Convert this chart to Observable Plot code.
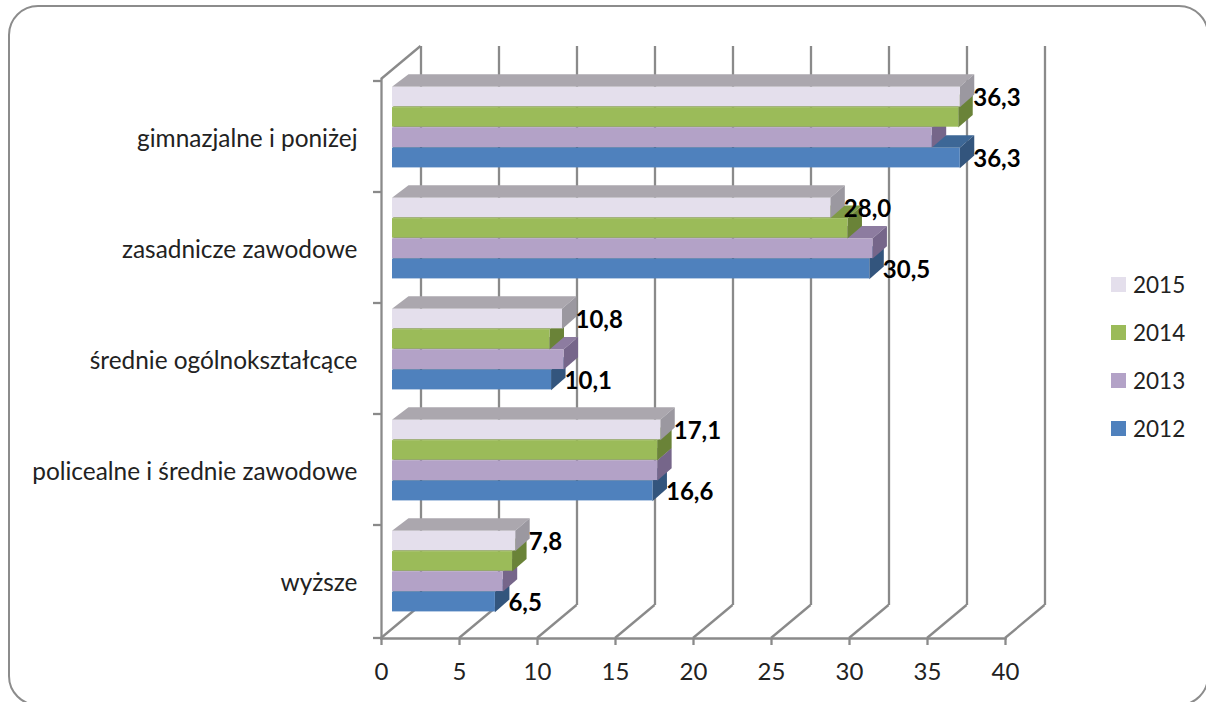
<!DOCTYPE html>
<html lang="pl">
<head>
<meta charset="utf-8">
<script src="https://cdn.jsdelivr.net/npm/d3@7"></script>
<script src="https://cdn.jsdelivr.net/npm/@observablehq/plot@0.6"></script>
<style>
html,body{margin:0;padding:0;background:#fff;width:1206px;height:702px;overflow:hidden}
#wrap{position:relative;width:1206px;height:702px;overflow:hidden;font-family:Lato,sans-serif}
#border{position:absolute;left:8px;top:5px;width:1201px;height:701px;border:2px solid #8c8c8c;border-radius:30px;box-sizing:border-box}
#chart{position:absolute;left:0;top:0}
#legend{position:absolute;left:1111px;top:260px;font-size:22.5px;color:#222}
.item{display:flex;align-items:center;height:48px}
.sw{width:15px;height:15px;margin-right:7px}
</style>
</head>
<body>
<div id="wrap"><div id="border"></div><div id="chart"></div><div id="legend"></div></div>
<script>
const categories = ["gimnazjalne i poniżej","zasadnicze zawodowe","średnie ogólnokształcące","policealne i średnie zawodowe","wyższe"];
const years = [2015,2014,2013,2012];
const values2015 = [36.3,28.0,10.8,17.1,7.8];
const values2014 = [36.2,29.1,10.0,16.9,7.6];
const values2013 = [34.5,30.7,10.9,16.9,7.0];
const values2012 = [36.3,30.5,10.1,16.6,6.5];
const labelledYears = [2015,2012];
const xTicks = [0,5,10,15,20,25,30,35,40];
const frontColors = ["#e4dfec","#9bbb59","#b3a2c7","#4f81bd"];
const topColors   = ["#aba7ae","#7f9a45","#8d7ca0","#3d6796"];
const sideColors  = ["#9b98a0","#6a8338","#76668a","#33557d"];

const seriesValues = [values2015,values2014,values2013,values2012];
const toRows = vals => categories.map((category,i)=>({category,value:vals[i]}));

const axisColor = "#8a8a8a";
const band = 111.8, rowH = 20.35, rowStart = 5.8;
const barShift = 12.5, barLeftExtra = 1.5;
const depthX = 14.5, depthY = 12.6, depthXLeft = 16.5;
const wallX = 39.5, wallY = 33;
const lineWidth = 2.3;

// side and top faces of one series' prisms, placed through the x and y scales
function prismFaces(idx){
  return (I,scales,values)=>{
    const g = d3.create("svg:g");
    const yTop = rowStart + idx*rowH, yBot = yTop + rowH;
    for(const i of I){
      const xL = values.x1[i] + barShift - barLeftExtra;
      const xR = values.x2[i] + barShift;
      const a = values.y[i] + yTop, b = values.y[i] + yBot;
      g.append("path").attr("fill",topColors[idx])
       .attr("d",`M${xL},${a}L${xR},${a}L${xR+depthX},${a-depthY}L${xL+depthXLeft},${a-depthY}Z`);
      g.append("path").attr("fill",sideColors[idx])
       .attr("d",`M${xR},${a}L${xR+depthX},${a-depthY}L${xR+depthX},${b-depthY}L${xR},${b}Z`);
    }
    return g.node();
  };
}

// slanted floor lines, and the slant at the top of the left wall
function wallSlants(I,scales,values,dim){
  const g = d3.create("svg:g").attr("stroke",axisColor).attr("stroke-width",lineWidth).attr("fill","none");
  const base = dim.height - dim.marginBottom, top = dim.marginTop;
  for(const i of I){
    const x = values.x[i];
    g.append("path").attr("d",`M${x},${base}L${x+wallX},${base-wallY}`);
  }
  const x0 = scales.x(0);
  g.append("path").attr("d",`M${x0},${top}L${x0+wallX},${top-wallY}`);
  return g.node();
}

// category ticks fall on the band boundaries
function bandTicks(I,scales,values,dim){
  const g = d3.create("svg:g").attr("stroke",axisColor).attr("stroke-width",lineWidth);
  const x0 = scales.x(0);
  const ys = categories.map(c=>scales.y(c));
  ys.push(dim.height - dim.marginBottom);
  for(const y of ys) g.append("line").attr("x1",x0-8).attr("x2",x0).attr("y1",y).attr("y2",y);
  return g.node();
}

const marks = [
  Plot.ruleX(xTicks,{stroke:axisColor,strokeWidth:lineWidth,dx:wallX,dy:-wallY}),
  Plot.ruleX(xTicks,{render:wallSlants}),
  Plot.frame({anchor:"left",stroke:axisColor,strokeWidth:lineWidth}),
  Plot.frame({anchor:"bottom",stroke:axisColor,strokeWidth:lineWidth}),
  Plot.ruleY(categories,{y:d=>d,render:bandTicks}),
  Plot.axisX({ticks:xTicks,tickSize:7,tickPadding:17,fontSize:24,stroke:axisColor,strokeWidth:lineWidth,fill:"#222",label:null,tickFormat:d=>String(d)}),
  Plot.axisY({tickSize:0,tickPadding:24,fontSize:24.4,fill:"#222",label:null,dy:2})
];
// lowest bar first, so that upper bars sit on top of lower ones
for(let idx=years.length-1;idx>=0;idx--){
  const rows = toRows(seriesValues[idx]);
  marks.push(Plot.barX(rows,{x:"value",y:"category",render:prismFaces(idx)}));
  marks.push(Plot.barX(rows,{
    x:"value",y:"category",fill:frontColors[idx],dx:barShift,
    insetLeft:-barLeftExtra,
    insetTop:rowStart+idx*rowH,
    insetBottom:band-rowStart-(idx+1)*rowH
  }));
}
for(const yr of labelledYears){
  const idx = years.indexOf(yr);
  marks.push(Plot.text(toRows(seriesValues[idx]),{
    x:"value",y:"category",
    text:d=>d.value.toFixed(1).replace(".",","),
    textAnchor:"start",fontWeight:"bold",fontSize:24,fill:"#000",
    dx:barShift+13,
    dy:rowStart+(idx+.5)*rowH-band/2+1
  }));
}

const chart = Plot.plot({
  width:1206,height:702,
  marginLeft:381,marginRight:201,marginTop:79,marginBottom:64,
  style:{background:"transparent",fontFamily:"Lato, sans-serif",overflow:"visible"},
  x:{domain:[0,40],axis:null},
  y:{type:"band",domain:categories,padding:0,axis:null},
  marks
});
document.getElementById("chart").append(chart);

const legend = d3.select("#legend");
years.forEach((y,i)=>{
  const it = legend.append("div").attr("class","item");
  it.append("div").attr("class","sw").style("background",frontColors[i]);
  it.append("span").text(y);
});
</script>
</body>
</html>
